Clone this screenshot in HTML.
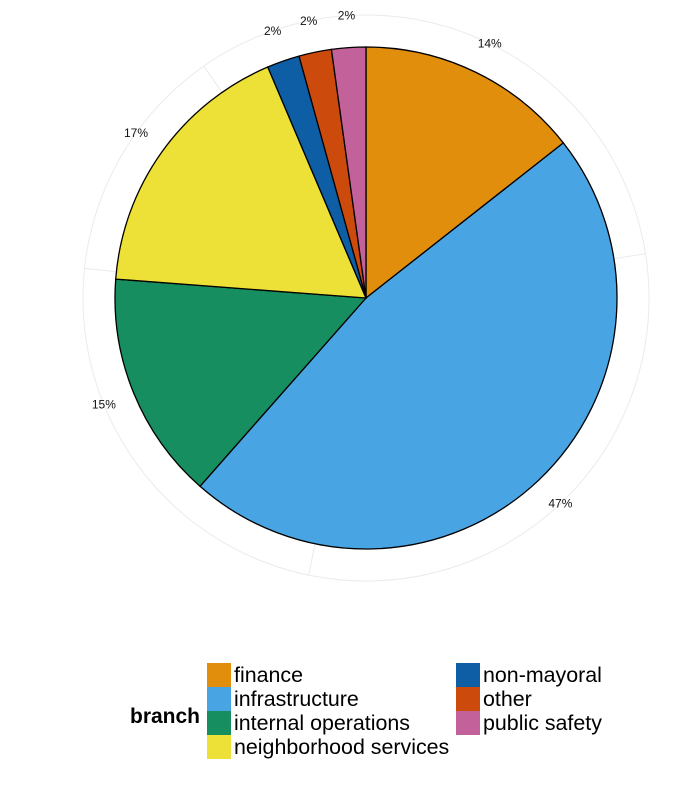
<!DOCTYPE html>
<html><head><meta charset="utf-8"><style>
body{margin:0;background:#fff;}
svg text{font-family:"Liberation Sans",sans-serif;}
</style></head><body>
<svg width="700" height="800" viewBox="0 0 700 800">
<g id="grid"></g><g id="slices"></g><g id="labels"></g>
<g>
<text x="130" y="723" font-size="21" font-weight="bold">branch</text>
<g id="legend"></g>
</g>
</svg>
<script>
const categories=["finance","infrastructure","internal operations","neighborhood services","non-mayoral","other","public safety"];
const values=[14.4,47.1,14.7,17.4,2.1,2.1,2.2];
const labels=["14%","47%","15%","17%","2%","2%","2%"];
const colors=["#E08E0B","#48A4E2","#168E5F","#EDE037","#0D5EA4","#CC4A0C","#C2619A"];
const gridAngles=[81,191.7,276,325];
const NS="http://www.w3.org/2000/svg";
const cx=366,cy=298,R=251,RG=283;
function mk(t,a,p){const e=document.createElementNS(NS,t);for(const k in a)e.setAttribute(k,a[k]);p.appendChild(e);return e;}
function pt(deg,r){const a=deg*Math.PI/180;return [cx+r*Math.sin(a),cy-r*Math.cos(a)];}
const grid=document.getElementById('grid');
const gc=mk('circle',{cx:cx,cy:cy,r:RG,fill:'none',stroke:'#ebebeb','stroke-width':1},grid);


gridAngles.forEach(a=>{const p=pt(a,RG);const l=mk('line',{x1:cx,y1:cy,x2:p[0],y2:p[1],stroke:'#ebebeb','stroke-width':1},grid);

});
const total=values.reduce((a,b)=>a+b,0);
let cum=0;
const sg=document.getElementById('slices'),lg=document.getElementById('labels');
values.forEach((v,i)=>{
 const a0=cum/total*360;cum+=v;const a1=cum/total*360;
 const p0=pt(a0,R),p1=pt(a1,R);const large=(a1-a0)>180?1:0;
 const s=mk('path',{d:`M${cx},${cy}L${p0[0]},${p0[1]}A${R},${R} 0 ${large} 1 ${p1[0]},${p1[1]}Z`,fill:colors[i],stroke:'#000','stroke-width':1.3},sg);
 
 
 const m=pt((a0+a1)/2,RG);
 const t=mk('text',{x:m[0],y:m[1]+4,'font-size':12,'text-anchor':'middle',fill:'#111'},lg);
 t.textContent=labels[i];
 
 
});
const leg=document.getElementById('legend');
categories.forEach((c,i)=>{
 const col=i<4?0:1,row=i<4?i:i-4;
 const x=col?456:207,y=663+row*24;
 const g=mk('g',{},leg);
 
 
 mk('rect',{x:x,y:y,width:24,height:24,fill:colors[i]},g);
 const t=mk('text',{x:x+27,y:y+19,'font-size':21.4,fill:'#000'},g);
 t.textContent=c;
});
</script>
</body></html>
